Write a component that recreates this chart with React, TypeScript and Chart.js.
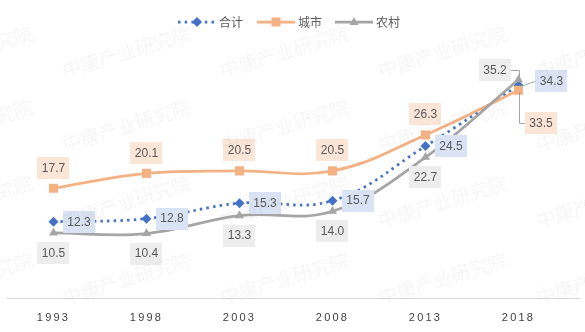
import React, { useEffect, useRef } from 'react';
import { Chart, registerables } from 'chart.js';

Chart.register(...registerables);

// ---- data ----
const years = ['1993', '1998', '2003', '2008', '2013', '2018'];
const totalValues = [12.3, 12.8, 15.3, 15.7, 24.5, 34.3];
const urbanValues = [17.7, 20.1, 20.5, 20.5, 26.3, 33.5];
const ruralValues = [10.5, 10.4, 13.3, 14.0, 22.7, 35.2];
const seriesNames = ['合计', '城市', '农村'];
const watermarkText = '中康产业研究院';

// ---- styles ----
const BLUE = '#4472C4';
const ORANGE = '#F4B183';
const GRAY = '#A5A5A5';
const LABEL_BG = ['#DAE3F3', '#FBE5D6', '#EDEDED'];
const LABEL_POS = ['right', 'above', 'below'];
const TEXT_COLOR = '#595959';
const LABEL_FONT = '12px "Liberation Sans", Arial, sans-serif';
const CJK_FONT = '"Noto Sans CJK SC", sans-serif';

type Pt = { x: number; y: number };

function drawBox(ctx: CanvasRenderingContext2D, cx: number, cy: number, text: string, bg: string) {
  ctx.font = LABEL_FONT;
  const w = ctx.measureText(text).width + 9;
  const h = 22;
  ctx.fillStyle = bg;
  ctx.fillRect(Math.round(cx - w / 2), Math.round(cy - h / 2), Math.round(w), h);
  ctx.fillStyle = TEXT_COLOR;
  ctx.textAlign = 'center';
  ctx.textBaseline = 'middle';
  ctx.fillText(text, cx, cy + 0.5);
  return { w, h };
}

function drawMarker(ctx: CanvasRenderingContext2D, kind: string, x: number, y: number, color: string) {
  ctx.fillStyle = color;
  ctx.beginPath();
  if (kind === 'diamond') {
    ctx.moveTo(x, y - 5);
    ctx.lineTo(x + 5, y);
    ctx.lineTo(x, y + 5);
    ctx.lineTo(x - 5, y);
  } else if (kind === 'square') {
    ctx.rect(x - 4.5, y - 4.5, 9, 9);
  } else {
    ctx.moveTo(x, y - 5);
    ctx.lineTo(x + 4.5, y + 3);
    ctx.lineTo(x - 4.5, y + 3);
  }
  ctx.closePath();
  ctx.fill();
}

const customPlugin = {
  id: 'custom',
  beforeDraw(chart: any) {
    chart.ctx.letterSpacing = '2.2px';
  },
  beforeDatasetsDraw(chart: any) {
    const ctx: CanvasRenderingContext2D = chart.ctx;
    ctx.letterSpacing = '0px';
    const area = chart.chartArea;
    ctx.save();
    ctx.strokeStyle = '#D9D9D9';
    ctx.lineWidth = 1;
    ctx.beginPath();
    ctx.moveTo(area.left, Math.round(area.bottom) + 0.5);
    ctx.lineTo(chart.width - 5, Math.round(area.bottom) + 0.5);
    ctx.stroke();
    ctx.restore();
  },
  afterDatasetsDraw(chart: any) {
    const ctx: CanvasRenderingContext2D = chart.ctx;
    ctx.save();
    const last = years.length - 1;
    chart.data.datasets.forEach((ds: any, di: number) => {
      const meta = chart.getDatasetMeta(di);
      meta.data.forEach((el: any, i: number) => {
        const p: Pt = { x: el.x, y: el.y };
        const text = (ds.data[i] as number).toFixed(1);
        const bg = LABEL_BG[di];
        if (i === last) {
          ctx.strokeStyle = GRAY;
          ctx.lineWidth = 1;
          if (di === 0) {
            const c = { x: p.x + 33, y: p.y - 4 };
            const b = drawBox(ctx, c.x, c.y, text, bg);
            ctx.beginPath();
            ctx.moveTo(p.x + 4, p.y + 0.5);
            ctx.lineTo(c.x - b.w / 2, c.y);
            ctx.stroke();
          } else if (di === 1) {
            const c = { x: p.x + 22.5, y: p.y + 33 };
            const b = drawBox(ctx, c.x, c.y, text, bg);
            ctx.beginPath();
            ctx.moveTo(Math.round(p.x) + 0.5, p.y + 2);
            ctx.lineTo(Math.round(p.x) + 0.5, Math.round(c.y) + 0.5);
            ctx.lineTo(c.x - b.w / 2, Math.round(c.y) + 0.5);
            ctx.stroke();
          } else {
            const c = { x: p.x - 23.5, y: p.y - 10 };
            const b = drawBox(ctx, c.x, c.y, text, bg);
            ctx.beginPath();
            ctx.moveTo(c.x + b.w / 2, Math.round(c.y) + 0.5);
            ctx.lineTo(Math.round(p.x) + 0.5, Math.round(c.y) + 0.5);
            ctx.lineTo(Math.round(p.x) + 0.5, p.y - 3);
            ctx.stroke();
          }
          return;
        }
        const pos = LABEL_POS[di];
        if (pos === 'right') drawBox(ctx, p.x + 25.5, p.y, text, bg);
        else if (pos === 'above') drawBox(ctx, p.x, p.y - 20.5, text, bg);
        else drawBox(ctx, p.x, p.y + 20, text, bg);
      });
    });
    ctx.restore();
  },
  afterDraw(chart: any) {
    const ctx: CanvasRenderingContext2D = chart.ctx;
    ctx.save();
    // legend
    const ly = 22;
    const items = [
      { name: seriesNames[0], color: BLUE, marker: 'diamond', dash: true, x0: 178 },
      { name: seriesNames[1], color: ORANGE, marker: 'square', dash: false, x0: 257 },
      { name: seriesNames[2], color: GRAY, marker: 'triangle', dash: false, x0: 335 },
    ];
    items.forEach((it) => {
      ctx.strokeStyle = it.color;
      ctx.lineWidth = 2.75;
      ctx.setLineDash(it.dash ? [2.5, 4.2] : []);
      ctx.beginPath();
      ctx.moveTo(it.x0, ly);
      ctx.lineTo(it.x0 + 38, ly);
      ctx.stroke();
      ctx.setLineDash([]);
      drawMarker(ctx, it.marker, it.x0 + 19, ly, it.color);
      ctx.fillStyle = TEXT_COLOR;
      ctx.font = '12px ' + CJK_FONT;
      ctx.textAlign = 'left';
      ctx.textBaseline = 'middle';
      ctx.fillText(it.name, it.x0 + 41, ly + 0.5);
    });
    // watermark overlay
    ctx.font = '300 19px ' + CJK_FONT;
    ctx.fillStyle = 'rgba(120,120,120,0.095)';
    ctx.textAlign = 'left';
    ctx.textBaseline = 'alphabetic';
    const rows = [78, 152, 228, 305];
    rows.forEach((ry) => {
      for (let x = -93; x < 600; x += 158) {
        ctx.save();
        ctx.translate(x, ry);
        ctx.rotate((-17 * Math.PI) / 180);
        ctx.fillText(watermarkText, 0, 0);
        ctx.restore();
      }
    });
    ctx.restore();
  },
};

export default function App() {
  const ref = useRef<HTMLCanvasElement>(null);
  useEffect(() => {
    document.body.style.margin = '0';
    const canvas = ref.current!;
    const chart = new Chart(canvas, {
      type: 'line',
      data: {
        labels: years,
        datasets: [
          {
            label: seriesNames[0],
            data: totalValues,
            borderColor: BLUE,
            backgroundColor: BLUE,
            borderWidth: 2.75,
            borderDash: [2.5, 4.2],
            pointStyle: 'rectRot',
            pointRadius: 5,
            pointBorderWidth: 0,
            tension: 0.4,
            order: 3,
          },
          {
            label: seriesNames[1],
            data: urbanValues,
            borderColor: ORANGE,
            backgroundColor: ORANGE,
            borderWidth: 2.75,
            pointStyle: 'rect',
            pointRadius: 6.4,
            pointBorderWidth: 0,
            tension: 0.4,
            order: 2,
          },
          {
            label: seriesNames[2],
            data: ruralValues,
            borderColor: GRAY,
            backgroundColor: GRAY,
            borderWidth: 2.75,
            pointStyle: 'triangle',
            pointRadius: 5.2,
            pointBorderWidth: 0,
            tension: 0.4,
            order: 1,
          },
        ],
      },
      options: {
        responsive: false,
        animation: false,
        devicePixelRatio: 1,
        layout: { padding: { left: 7, right: 20, top: 50, bottom: 9 } },
        plugins: { legend: { display: false }, tooltip: { enabled: false } },
        scales: {
          x: {
            offset: true,
            grid: { display: false, drawTicks: false },
            border: { display: false },
            ticks: {
              color: '#404040',
              font: { size: 11, family: '"Liberation Sans", Arial, sans-serif' },
              padding: 13,
              maxRotation: 0,
              autoSkip: false,
            },
            afterFit: (scale: any) => {
              scale.height = 25;
            },
          },
          y: { display: false, min: 0, max: 40 },
        },
      },
      plugins: [customPlugin],
    } as any);
    return () => chart.destroy();
  }, []);
  return <canvas ref={ref} width={585} height={332} style={{ display: 'block' }} />;
}
